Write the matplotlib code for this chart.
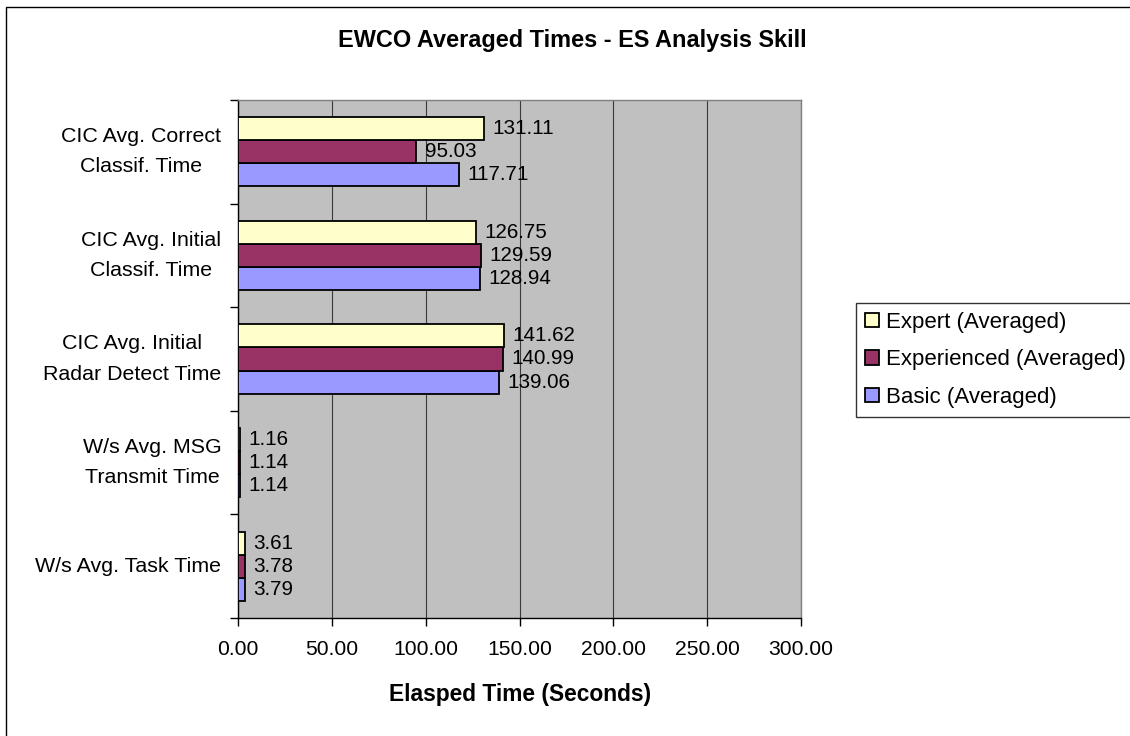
import matplotlib
matplotlib.use("Agg")
import matplotlib.pyplot as plt
from matplotlib.patches import Rectangle
import numpy as np

plt.rcParams["font.family"] = ["Liberation Sans", "DejaVu Sans"]

# Categories listed bottom to top
categories = [
    "W/s Avg. Task Time",
    "W/s Avg. MSG\nTransmit Time",
    "CIC Avg. Initial\nRadar Detect Time",
    "CIC Avg. Initial\nClassif. Time",
    "CIC Avg. Correct\nClassif. Time",
]
expert = [3.61, 1.16, 141.62, 126.75, 131.11]
experienced = [3.78, 1.14, 140.99, 129.59, 95.03]
basic = [3.79, 1.14, 139.06, 128.94, 117.71]
x_ticks = [0, 50, 100, 150, 200, 250, 300]
x_tick_labels = ["0.00", "50.00", "100.00", "150.00", "200.00", "250.00", "300.00"]

W, H = 1130, 736
fig = plt.figure(figsize=(W / 100, H / 100), dpi=100)
ax = fig.add_axes([238 / W, 1 - 618 / H, (801 - 238) / W, (618 - 100) / H])
ax.set_facecolor("#C0C0C0")
ax.set_xlim(0, 300)
ax.set_ylim(-0.5, 4.5)

h = 1 / 4.5
y = np.arange(len(categories))
series = [
    (basic, "#9999FF", "Basic (Averaged)", -h),
    (experienced, "#993366", "Experienced (Averaged)", 0.0),
    (expert, "#FFFFCC", "Expert (Averaged)", h),
]
handles = {}
for vals, col, lab, off in series:
    bars = ax.barh(y + off, vals, height=h, color=col, edgecolor="black",
                   linewidth=1.3, label=lab, zorder=3)
    handles[lab] = Rectangle((0, 0), 1, 1, facecolor=col, edgecolor="black", linewidth=1.3)
    for b, v in zip(bars, vals):
        ax.annotate(f"{v:.2f}", xy=(v, b.get_y() + h / 2), xytext=(6, 0),
                    textcoords="offset points", va="center", ha="left",
                    fontsize=14.9, zorder=4)

# Vertical gridlines
ax.set_axisbelow(True)
ax.set_xticks(x_ticks)
ax.set_xticklabels(x_tick_labels)
ax.grid(axis="x", color="#3a3a3a", linewidth=0.8)
ax.tick_params(axis="x", direction="out", length=6, width=1, pad=10, labelsize=15.2)

# Category ticks at boundaries, labels at centers
ax.set_yticks(np.arange(-0.5, len(categories), 1.0))
ax.set_yticklabels([])
ax.set_yticks(y, minor=True)
ax.set_yticklabels(categories, minor=True, multialignment="center", linespacing=1.75)
ax.tick_params(axis="y", which="major", direction="out", length=6, width=1)
ax.tick_params(axis="y", which="minor", length=0, pad=12, labelsize=15.4)
for lbl in ax.get_yticklabels(minor=True):
    lbl.set_verticalalignment("center")

for side in ("left", "bottom"):
    ax.spines[side].set_color("black")
    ax.spines[side].set_linewidth(1)
for side in ("top", "right"):
    ax.spines[side].set_color("#808080")
    ax.spines[side].set_linewidth(1)

order = ["Expert (Averaged)", "Experienced (Averaged)", "Basic (Averaged)"]
leg = fig.legend([handles[k] for k in order], order, loc="upper left",
                 bbox_to_anchor=(856 / W, 1 - 302.7 / H), bbox_transform=fig.transFigure,
                 frameon=True, fancybox=False, edgecolor="black", fontsize=16,
                 handlelength=0.62, handleheight=0.62, handletextpad=0.32,
                 labelspacing=0.75, borderpad=0.4, borderaxespad=0)
leg.get_frame().set_linewidth(1)

fig.text(572 / W, 1 - 41 / H, "EWCO Averaged Times - ES Analysis Skill",
         ha="center", va="center", fontsize=16.9, fontweight="bold")
fig.text(520 / W, 1 - 695 / H, "Elasped Time (Seconds)",
         ha="center", va="center", fontsize=16.4, fontweight="bold")

# Chart-area border
fig.patches.append(Rectangle((6 / W, -0.1), 1.2, 1 - 6.5 / H + 0.1,
                             transform=fig.transFigure, fill=False,
                             edgecolor="black", linewidth=1))

fig.savefig("out.png", dpi=100)
